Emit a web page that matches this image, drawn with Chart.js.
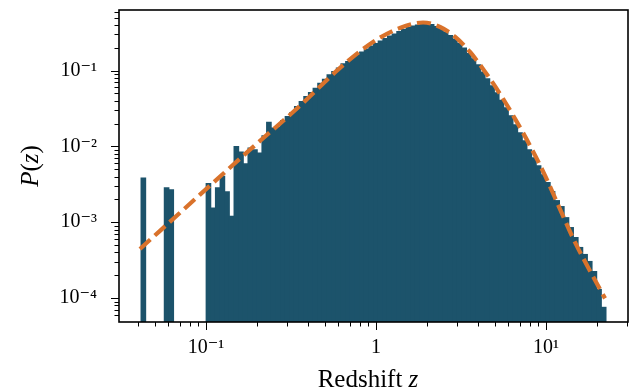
<!DOCTYPE html>
<html>
<head>
<meta charset="utf-8">
<style>
  html, body { margin: 0; padding: 0; background: #fff; }
  #wrap { width: 633px; height: 392px; }
</style>
</head>
<body>
<div id="wrap"><canvas id="chart"></canvas></div>
<script src="https://cdn.jsdelivr.net/npm/chart.js"></script>
<script>
// histogram: log-spaced bins between binLo and binHi
const binLo = 0.0415;
const binHi = 22.5;
const binCount = 100;

// P(z) per bin, null where the bin is empty
const pz = [
  0.00384, null, null, null, null, 0.00284, 0.00269, null, null, null,
  null, null, null, null, 0.00323, 0.00154, 0.00284, 0.00403, 0.00252, 0.00120,
  0.0100, 0.00844, 0.00592, 0.00953, 0.00906, 0.00818, 0.0138, 0.0209, 0.0175, 0.0180,
  0.0220, 0.0248, 0.0280, 0.0336, 0.0391, 0.0455, 0.0514, 0.0586, 0.0682, 0.0771,
  0.0879, 0.0971, 0.108, 0.123, 0.132, 0.147, 0.161, 0.176, 0.193, 0.211,
  0.228, 0.246, 0.265, 0.286, 0.304, 0.328, 0.348, 0.370, 0.387, 0.399,
  0.411, 0.418, 0.405, 0.382, 0.354, 0.323, 0.290, 0.261, 0.228, 0.199,
  0.168, 0.143, 0.119, 0.0962, 0.0778, 0.0630, 0.0509, 0.0406, 0.0323, 0.0253,
  0.0193, 0.0151, 0.0119, 0.00905, 0.00710, 0.00557, 0.00424, 0.00333, 0.00254, 0.00193,
  0.00161, 0.00115, 0.000851, 0.000629, 0.000465, 0.000376, 0.000304, 0.000224, 0.000130, 0.0000755
];

// dashed model curve
const curveZ = [0.0409, 0.0922, 0.1815, 0.357, 0.614, 0.960, 1.38, 1.89, 2.38, 2.92,
                3.57, 4.38, 5.36, 6.57, 8.05, 9.86, 12.1, 14.8, 18.2, 22.2];
const curveP = [4.44e-4, 2.31e-3, 9.06e-3, 0.0343, 0.1087, 0.2385, 0.365, 0.431, 0.376, 0.278,
                0.176, 0.0961, 0.0493, 0.0231, 0.0102, 0.00411, 0.00147, 5.41e-4, 2.24e-4, 9.9e-5];

// tick labels by power of ten
const xTickPowers = [-1, 0, 1];
const xTickLabels = ['10⁻¹', '1', '10¹'];
const yTickPowers = [-4, -3, -2, -1];
const yTickLabels = ['10⁻⁴', '10⁻³', '10⁻²', '10⁻¹'];

const serif = "'Liberation Serif', 'DejaVu Serif', serif";

const step = (Math.log10(binHi) - Math.log10(binLo)) / binCount;
const centers = pz.map((_, i) => Math.pow(10, Math.log10(binLo) + step * (i + 0.5)));

function sig(v) {
  return v / Math.pow(10, Math.floor(Math.log10(v) + 1e-9));
}
function isWhole(v) {
  const s = sig(v);
  return Math.abs(s - Math.round(s)) < 1e-6;
}
function powerOf(v) {
  const e = Math.log10(v);
  return Math.abs(e - Math.round(e)) < 1e-6 ? Math.round(e) : null;
}
function labelFor(powers, labels) {
  return function (value) {
    const p = powerOf(value);
    const k = powers.indexOf(p);
    return k >= 0 ? labels[k] : '';
  };
}
function noPad(s) {
  s.paddingTop = 0; s.paddingBottom = 0; s.paddingLeft = 0; s.paddingRight = 0;
}

// frame, outward ticks and axis titles
const framePlugin = {
  id: 'frame',
  afterDraw(chart) {
    const { ctx, chartArea: a, scales: { x, y } } = chart;
    ctx.save();
    ctx.strokeStyle = '#000';
    ctx.lineWidth = 1;
    ctx.beginPath();
    x.ticks.forEach(t => {
      const px = Math.round(x.getPixelForValue(t.value)) + 0.5;
      const len = powerOf(t.value) !== null ? 8 : 4.5;
      ctx.moveTo(px, a.bottom);
      ctx.lineTo(px, a.bottom + len);
    });
    y.ticks.forEach(t => {
      const py = Math.round(y.getPixelForValue(t.value)) + 0.5;
      const len = powerOf(t.value) !== null ? 8 : 4.5;
      ctx.moveTo(a.left, py);
      ctx.lineTo(a.left - len, py);
    });
    ctx.stroke();

    ctx.lineWidth = 1.6;
    ctx.strokeRect(a.left, a.top, a.right - a.left, a.bottom - a.top);

    ctx.fillStyle = '#000';
    ctx.textBaseline = 'alphabetic';
    // x title: "Redshift z"
    const up = '25px ' + serif, it = 'italic 25px ' + serif;
    ctx.font = up;
    const w1 = ctx.measureText('Redshift ').width;
    ctx.font = it;
    const w2 = ctx.measureText('z').width;
    let tx = 368 - (w1 + w2) / 2;
    ctx.font = up;
    ctx.fillText('Redshift ', tx, 387);
    ctx.font = it;
    ctx.fillText('z', tx + w1, 387);

    // y title: "P(z)"
    const parts = [['P', it], ['(', up], ['z', it], [')', up]];
    let total = 0;
    parts.forEach(p => { ctx.font = p[1]; total += ctx.measureText(p[0]).width; });
    ctx.translate(38, (a.top + a.bottom) / 2);
    ctx.rotate(-Math.PI / 2);
    let cx = -total / 2;
    parts.forEach(p => {
      ctx.font = p[1];
      ctx.fillText(p[0], cx, 0);
      cx += ctx.measureText(p[0]).width;
    });
    ctx.restore();
  }
};

new Chart(document.getElementById('chart'), {
  type: 'bar',
  data: {
    datasets: [
      {
        type: 'line',
        data: curveZ.map((z, i) => ({ x: z, y: curveP[i] })),
        borderColor: '#d9722b',
        borderWidth: 4.2,
        borderDash: [14, 6],
        pointRadius: 0,
        fill: false,
        cubicInterpolationMode: 'monotone',
        order: 0
      },
      {
        type: 'bar',
        data: centers.map((z, i) => ({ x: z, y: pz[i] })),
        backgroundColor: '#1c536b',
        borderWidth: 0,
        inflateAmount: 0.5,
        barPercentage: 1,
        categoryPercentage: 1,
        order: 1
      }
    ]
  },
  options: {
    responsive: true,
    maintainAspectRatio: false,
    animation: false,
    layout: { padding: { top: 10, right: 5, left: 0, bottom: 0 } },
    plugins: { legend: { display: false }, tooltip: { enabled: false } },
    scales: {
      x: {
        type: 'logarithmic',
        min: 0.0308,
        max: 30.3,
        offset: false,
        grid: { display: false, drawTicks: false, offset: false },
        border: { display: false },
        afterBuildTicks: s => { s.ticks = s.ticks.filter(t => isWhole(t.value)); },
        afterFit: s => { s.height = 70; noPad(s); },
        ticks: {
          autoSkip: false,
          maxRotation: 0,
          padding: 14,
          color: '#000',
          font: { family: serif, size: 20 },
          callback: labelFor(xTickPowers, xTickLabels)
        }
      },
      y: {
        type: 'logarithmic',
        min: 4.83e-5,
        max: 0.63,
        grid: { display: false, drawTicks: false },
        border: { display: false },
        afterBuildTicks: s => { s.ticks = s.ticks.filter(t => isWhole(t.value)); },
        afterFit: s => { s.width = 119; noPad(s); },
        ticks: {
          autoSkip: false,
          padding: 22,
          color: '#000',
          font: { family: serif, size: 20 },
          callback: labelFor(yTickPowers, yTickLabels)
        }
      }
    }
  },
  plugins: [framePlugin]
});
</script>
</body>
</html>
